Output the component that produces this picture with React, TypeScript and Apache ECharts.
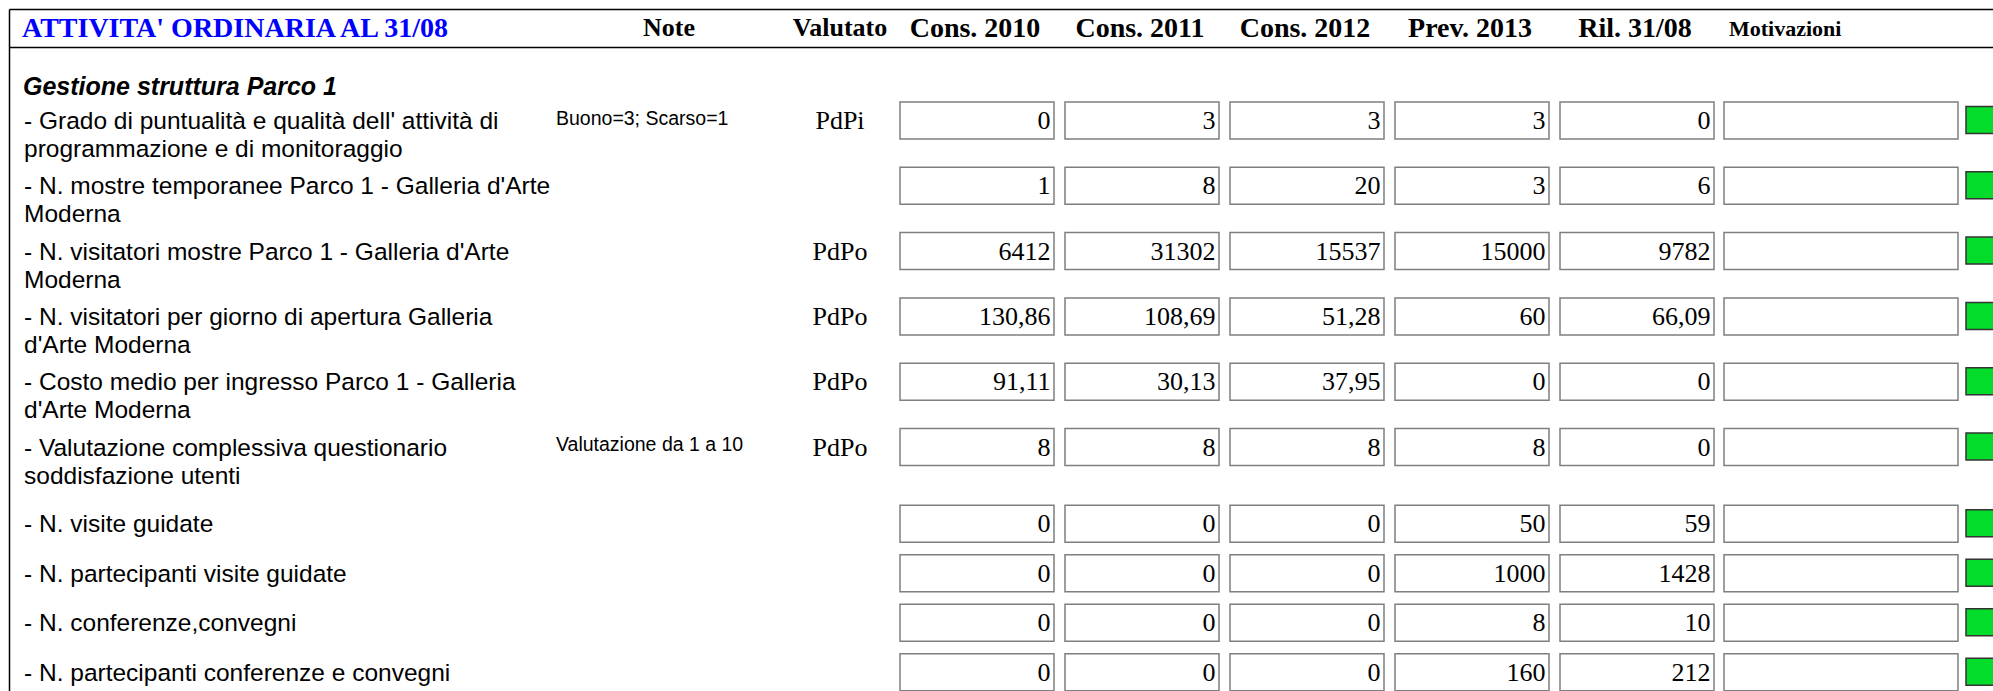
import React, { useEffect, useRef } from 'react';
import * as echarts from 'echarts';

// ---------- text content ----------
const TITLE = "ATTIVITA' ORDINARIA AL 31/08";
const SECTION = 'Gestione struttura Parco 1';
const headerNote = 'Note';
const headerValutato = 'Valutato';
const valueHeaders = ['Cons. 2010', 'Cons. 2011', 'Cons. 2012', 'Prev. 2013', 'Ril. 31/08'];
const headerMotivazioni = 'Motivazioni';

const labels = [
  "- Grado di puntualità e qualità dell' attività di\nprogrammazione e di monitoraggio",
  "- N. mostre temporanee Parco 1 - Galleria d'Arte\nModerna",
  "- N. visitatori mostre Parco 1 - Galleria d'Arte\nModerna",
  "- N. visitatori per giorno di apertura Galleria\nd'Arte Moderna",
  "- Costo medio per ingresso Parco 1 - Galleria\nd'Arte Moderna",
  '- Valutazione complessiva questionario\nsoddisfazione utenti',
  '- N. visite guidate',
  '- N. partecipanti visite guidate',
  '- N. conferenze,convegni',
  '- N. partecipanti conferenze e convegni',
];
const notes = ['Buono=3; Scarso=1', '', '', '', '', 'Valutazione da 1 a 10', '', '', '', ''];
const valutato = ['PdPi', '', 'PdPo', 'PdPo', 'PdPo', 'PdPo', '', '', '', ''];

// ---------- values ----------
const cons2010 = [0, 1, 6412, 130.86, 91.11, 8, 0, 0, 0, 0];
const cons2011 = [3, 8, 31302, 108.69, 30.13, 8, 0, 0, 0, 0];
const cons2012 = [3, 20, 15537, 51.28, 37.95, 8, 0, 0, 0, 0];
const prev2013 = [3, 3, 15000, 60, 0, 8, 50, 1000, 8, 160];
const ril3108 = [0, 6, 9782, 66.09, 0, 0, 59, 1428, 10, 212];
const motivazioni = ['', '', '', '', '', '', '', '', '', ''];

// ---------- layout / style ----------
const W = 1993;
const H = 691;
const SERIF = '"Liberation Serif", "Times New Roman", serif';
const SANS = '"Liberation Sans", Arial, sans-serif';
const FRAME_X = 9.5;
const TOP_LINE = 9.5;
const HEAD_LINE = 47.5;
const TEXT_X = 24;
const NOTE_X = 556;
const VAL_X = 840;
const NOTE_HEAD_X = 669;
const BOX_X0 = 900;
const BOX_W = 154;
const BOX_PITCH = 165;
const BOX_H = 37;
const MOT_X = 1724;
const MOT_W = 234;
const GREEN_X = 1966;
const GREEN_SIZE = 27;
const LINE_H = 28;

const fmt = (v: number) => String(v).replace('.', ',');
const columns = [cons2010, cons2011, cons2012, prev2013, ril3108];

// rows: two-line rows and single-line rows have different heights
const rowLines = labels.map((l) => l.split('\n').length);
const rowCenters: number[] = [];
{
  let top = 107.5;
  for (const n of rowLines) {
    rowCenters.push(top + (n > 1 ? 13 : 24.4));
    top += n > 1 ? 65.3 : 49.5;
  }
}

function txt(x: number, y: number, text: string, o: any) {
  return {
    type: 'text',
    x,
    y,
    style: {
      text,
      fill: o.fill || '#000',
      fontSize: o.size,
      fontFamily: o.family,
      fontWeight: o.weight || 'normal',
      fontStyle: o.style || 'normal',
      align: o.align || 'left',
      textAlign: o.align || 'left',
      verticalAlign: o.va || 'middle',
      textVerticalAlign: o.va || 'middle',
      lineHeight: o.lineHeight,
    },
  };
}

export default function App() {
  const ref = useRef<HTMLDivElement>(null);
  useEffect(() => {
    if (!ref.current) return;
    const chart = echarts.init(ref.current, undefined, { renderer: 'svg' });

    const data = labels.map((_, i) => [0, rowCenters[i], i, ...columns.map((c) => c[i])]);

    const renderItem = (params: any, api: any) => {
      const i = api.value(2);
      const cy = api.value(1);
      const P = (x: number, y: number) => api.coord([x, y]);
      const children: any[] = [];
      const lp = P(TEXT_X, cy - LINE_H / 2);
      children.push(
        txt(lp[0], lp[1], labels[i], { size: 24.5, family: SANS, va: 'top', lineHeight: LINE_H })
      );
      if (notes[i]) {
        const np = P(NOTE_X, cy - 3);
        children.push(txt(np[0], np[1], notes[i], { size: 19.5, family: SANS }));
      }
      if (valutato[i]) {
        const vp = P(VAL_X, cy);
        children.push(txt(vp[0], vp[1], valutato[i], { size: 26, family: SERIF, align: 'center' }));
      }
      for (let c = 0; c < columns.length; c++) {
        const x0 = BOX_X0 + c * BOX_PITCH;
        const a = P(x0, cy - BOX_H / 2);
        const b = P(x0 + BOX_W, cy + BOX_H / 2);
        children.push({
          type: 'rect',
          shape: { x: a[0], y: a[1], width: b[0] - a[0], height: b[1] - a[1] },
          style: { fill: '#fff', stroke: '#7f7f7f', lineWidth: 1.5 },
        });
        const tp = P(x0 + BOX_W - 3.5, cy);
        children.push(txt(tp[0], tp[1], fmt(api.value(3 + c)), { size: 26, family: SERIF, align: 'right' }));
      }
      const ma = P(MOT_X, cy - BOX_H / 2);
      const mb = P(MOT_X + MOT_W, cy + BOX_H / 2);
      children.push({
        type: 'rect',
        shape: { x: ma[0], y: ma[1], width: mb[0] - ma[0], height: mb[1] - ma[1] },
        style: { fill: '#fff', stroke: '#7f7f7f', lineWidth: 1.5 },
      });
      if (motivazioni[i]) {
        const mp = P(MOT_X + 4, cy);
        children.push(txt(mp[0], mp[1], motivazioni[i], { size: 22, family: SERIF }));
      }
      const ga = P(GREEN_X, cy - 14);
      const gb = P(GREEN_X + GREEN_SIZE + 3, cy - 14 + GREEN_SIZE);
      children.push({
        type: 'rect',
        shape: { x: ga[0], y: ga[1], width: gb[0] - ga[0], height: gb[1] - ga[1] },
        style: { fill: '#04dc2b', stroke: '#333333', lineWidth: 1.5 },
      });
      return { type: 'group', children };
    };

    const graphic: any[] = [
      { type: 'line', shape: { x1: FRAME_X, y1: TOP_LINE, x2: W, y2: TOP_LINE }, style: { stroke: '#000', lineWidth: 1.5 } },
      { type: 'line', shape: { x1: FRAME_X, y1: HEAD_LINE, x2: W, y2: HEAD_LINE }, style: { stroke: '#000', lineWidth: 1.5 } },
      { type: 'line', shape: { x1: FRAME_X, y1: TOP_LINE, x2: FRAME_X, y2: H }, style: { stroke: '#000', lineWidth: 1.5 } },
      txt(TEXT_X - 2, 27, TITLE, { size: 28, family: SERIF, weight: 'bold', fill: '#0000ff' }),
      txt(NOTE_HEAD_X, 27, headerNote, { size: 26, family: SERIF, weight: 'bold', align: 'center' }),
      txt(VAL_X, 27, headerValutato, { size: 26, family: SERIF, weight: 'bold', align: 'center' }),
      ...valueHeaders.map((h, c) =>
        txt(BOX_X0 + c * BOX_PITCH + BOX_W / 2 - 2, 27.5, h, { size: 28, family: SERIF, weight: 'bold', align: 'center' })
      ),
      txt(MOT_X + 5, 28, headerMotivazioni, { size: 22, family: SERIF, weight: 'bold' }),
      txt(TEXT_X - 1, 86, SECTION, { size: 25, family: SANS, weight: 'bold', style: 'italic' }),
    ];

    chart.setOption({
      animation: false,
      backgroundColor: '#ffffff',
      grid: { left: 0, right: 0, top: 0, bottom: 0, containLabel: false },
      xAxis: { type: 'value', min: 0, max: W, show: false },
      yAxis: { type: 'value', min: 0, max: H, inverse: true, show: false },
      graphic,
      series: [
        {
          type: 'custom',
          renderItem,
          data,
          encode: { x: 0, y: 1 },
          clip: false,
          silent: true,
        },
      ],
    });
    return () => chart.dispose();
  }, []);
  return (
    <div
      ref={ref}
      style={{ position: 'fixed', left: 0, top: 0, width: W, height: H, background: '#fff' }}
    />
  );
}
